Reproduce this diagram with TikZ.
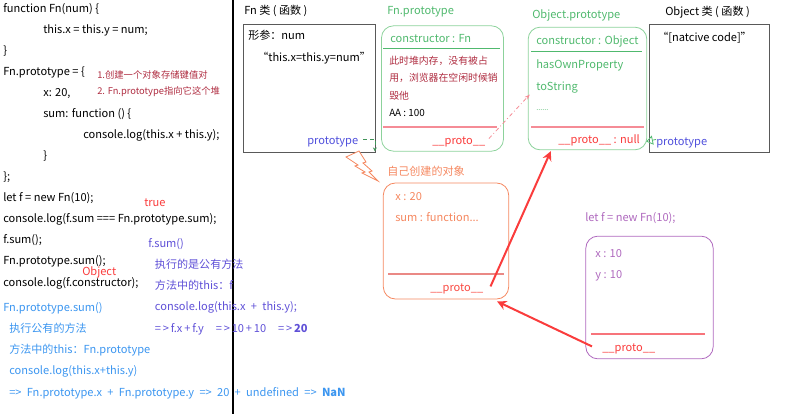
\documentclass[tikz,border=0pt]{standalone}
\usepackage{fontspec}
\setmainfont{Noto Sans CJK SC}
\usepackage{tikz}
\usetikzlibrary{calc}
\usetikzlibrary{arrows.meta}
\definecolor{codegreen}{RGB}{80,185,110}
\definecolor{boxgreen}{RGB}{140,210,155}
\definecolor{protored}{RGB}{250,60,60}
\definecolor{pinkline}{RGB}{245,140,150}
\definecolor{ownorange}{RGB}{245,135,95}
\definecolor{fpurple}{RGB}{175,105,190}
\definecolor{sumblue}{RGB}{60,150,240}
\definecolor{callblue}{RGB}{95,80,215}
\definecolor{protoblue}{RGB}{80,80,220}
\definecolor{notered}{RGB}{175,45,65}
\newcommand\widespaces{\spaceskip=4pt plus 1pt\relax}
\tikzset{
    txt/.style={anchor=base west, inner sep=0pt, font=\fontsize{8.3}{10}\selectfont},
    smalltxt/.style={anchor=base west, inner sep=0pt, font=\fontsize{7}{9}\selectfont},
    % multi-line blocks: placed by the baseline of their last line
    codeblock/.style={anchor=base west, inner sep=0pt, align=left,
        font=\fontsize{8.3}{15.8}\selectfont},
    widecode/.style={codeblock, font=\fontsize{8.3}{15.8}\selectfont\widespaces},
    plainbox/.style={draw=black!65, line width=0.6pt, inner sep=0pt},
    roundbox/.style={draw=#1, line width=0.6pt, rounded corners=9pt, inner sep=0pt},
    % arrows between the boxes
    redarrow/.style={line width=1.5pt, protored, -{Stealth[length=7pt, width=7pt]}},
    dasharrow/.style={line width=0.6pt, pinkline, dash dot, -{Stealth[length=4pt, width=3pt]}},
    greenarrow/.style={line width=0.6pt, codegreen!80!black, densely dashed, -{Stealth[length=3pt, width=3pt]}},
    openarrow/.style={line width=0.6pt, codegreen, -{Triangle[open, length=5pt, width=7pt]}}
}
\begin{document}
\begin{tikzpicture}[x=0.75pt, y=-0.75pt]
	\useasboundingbox (0,0) rectangle (786,414);
	\draw[line width=1.5pt] (233,0) -- (233,414);

	% code on the left
	\node[codeblock] (code) at (3,286) {function Fn(num) \{\\
	\hspace*{30pt}this.x = this.y = num;\\
	\}\\
	Fn.prototype = \{\\
	\hspace*{30pt}x: 20,\\
	\hspace*{30pt}sum: function () \{\\
	\hspace*{60pt}console.log(this.x + this.y);\\
	\hspace*{30pt}\}\\
	\};\\
	let f = new Fn(10);\\
	console.log(f.sum === Fn.prototype.sum);\\
	f.sum();\\
	Fn.prototype.sum();\\
	console.log(f.constructor);};
	\node[smalltxt, notered] (note1) at (97,78) {1.创建一个对象存储键值对};
	\node[smalltxt, notered] (note2) at (97,94) {2. Fn.prototype指向它这个堆};
	\node[txt, protored] (truelbl) at (144,206) {true};
	\node[txt, protored] (objlbl) at (82,275) {Object};

	\node[widecode, callblue] (fsum) at (148,332) {f.sum()\\
	\hspace*{5pt}执行的是公有方法\\
	\hspace*{5pt}方法中的this：f\\
	\hspace*{5pt}console.log(this.x + this.y);\\
	\hspace*{5pt}=\,>\,f.x\,+\,f.y\hspace{9pt}=\,>\,10\,+\,10\hspace{9pt}=\,>\,\textbf{20}};
	\node[widecode, sumblue] (protosum) at (3,396) {Fn.prototype.sum()\\
	\hspace*{4.5pt}执行公有的方法\\
	\hspace*{4.5pt}方法中的this：Fn.prototype\\
	\hspace*{4.5pt}console.log(this.x+this.y)\\
	\hspace*{4.5pt}=> Fn.prototype.x + Fn.prototype.y => 20 + undefined => \textbf{NaN}};

	% Fn class
	\node[txt] (fntitle) at (244,14) {Fn 类 ( 函数 )};
	\node[plainbox, minimum width=99pt, minimum height=96pt] (fnbox) at (309.5,88) {};
	\node[txt] (fnparam) at (248,39) {形参：num};
	\node[txt] (fnbody) at (257,61) {“this.x=this.y=num”};
	\node[txt, protoblue] (fnprotolbl) at (307,144) {prototype};

	% Fn.prototype
	\node[txt, codegreen] (fnprototitle) at (387,15) {Fn.prototype};
	\node[roundbox=boxgreen, minimum width=91.5pt, minimum height=94pt] (fnproto) at (442.5,88.5) {};
	\node[txt, codegreen] (fnctor) at (390,42) {constructor : Fn};
	\draw[codegreen, line width=0.6pt] (383,48) -- (500,48);
	\node[smalltxt, notered, align=left, font=\fontsize{7.4}{13}\selectfont] (heapnote) at (389,99) {此时堆内存，没有被占\\用，浏览器在空闲时候销\\毁他};
	\node[smalltxt, font=\fontsize{7.4}{9}\selectfont] (aa) at (389,116) {AA : 100};
	\draw[pinkline, line width=0.8pt] (383,127) -- (497,127);
	\node[txt, protored] (fnprotoproto) at (432,144) {\_\_proto\_\_};

	% Object.prototype
	\node[txt, codegreen] (objprototitle) at (532,18) {Object.prototype};
	\node[roundbox=boxgreen, minimum width=89pt, minimum height=92pt] (objproto) at (587.5,88.5) {};
	\node[txt, codegreen] (objctor) at (536,45) {constructor : Object};
	\draw[codegreen, line width=0.6pt] (531,51) -- (642,51);
	\node[txt, codegreen] (hasown) at (536,68) {hasOwnProperty};
	\node[txt, codegreen] (tostr) at (536,90) {toString};
	\node[smalltxt, codegreen, font=\fontsize{5.5}{6}\selectfont] (dots) at (536,110) {......};
	\draw[pinkline, line width=0.8pt] (531,127) -- (644,127);
	\node[txt, protored] (objprotoproto) at (558,143) {\_\_proto\_\_ : null};

	% Object class
	\node[txt] (objtitle) at (665,16) {Object 类 ( 函数 )};
	\node[plainbox, minimum width=90pt, minimum height=96pt] (objbox) at (709,88) {};
	\node[txt] (native) at (657,41) {“[natcive code]”};
	\node[txt, protoblue] (objprotolbl) at (656,145) {prototype};

	% own object
	\draw[ownorange, line width=0.6pt, fill=white] (346,157) -- (359,151) -- (366,162) -- (363,163) -- (372,171) -- (369,172) -- (378,181) -- (362,173) -- (365,172) -- (355,166) -- (358,165) -- cycle;
	\node[txt, ownorange] (owntitle) at (387,175) {自己创建的对象};
	\node[roundbox=ownorange, minimum width=94pt, minimum height=87pt] (ownbox) at (446,241) {};
	\node[txt, ownorange] (ownx) at (395,200) {x : 20};
	\node[txt, ownorange] (ownsum) at (395,221) {sum : function...};
	\draw[pinkline!80!brown, line width=0.8pt] (388,274) -- (504,274);
	\node[txt, protored!80!ownorange] (ownproto) at (430,291) {\_\_proto\_\_};

	% instance f
	\node[txt, fpurple] (ftitle) at (585,221) {let f = new Fn(10);};
	\node[roundbox=fpurple, minimum width=95.5pt, minimum height=92pt] (fbox) at (649.5,297.5) {};
	\node[txt, fpurple] (fx) at (595,257) {x : 10};
	\node[txt, fpurple] (fy) at (595,278) {y : 10};
	\draw[pinkline!70!protored, line width=0.8pt] (591,334) -- (705,334);
	\node[txt, protored] (fproto) at (602,351) {\_\_proto\_\_};

	% links
	\draw[greenarrow] ($(fnprotolbl.east)+(5,-2)$) -| ($(fnbox.south east)+(-1,-1)$);
	\draw[openarrow] ($(objprotolbl.west)+(0,-3)$) -- ($(objproto.east)+(-1,53)$);
	\draw[dasharrow] ($(fnproto.south east)+(-15,-13)$) -- ($(objproto.west)+(2,6)$);
	\draw[redarrow] ($(ownproto.east)+(7,-2)$) -- ($(objproto.south west)+(23,1)$);
	\draw[redarrow] ($(fproto.west)+(-10,-2)$) -- ($(ownbox.south east)+(-12,2)$);
\end{tikzpicture}
\end{document}
